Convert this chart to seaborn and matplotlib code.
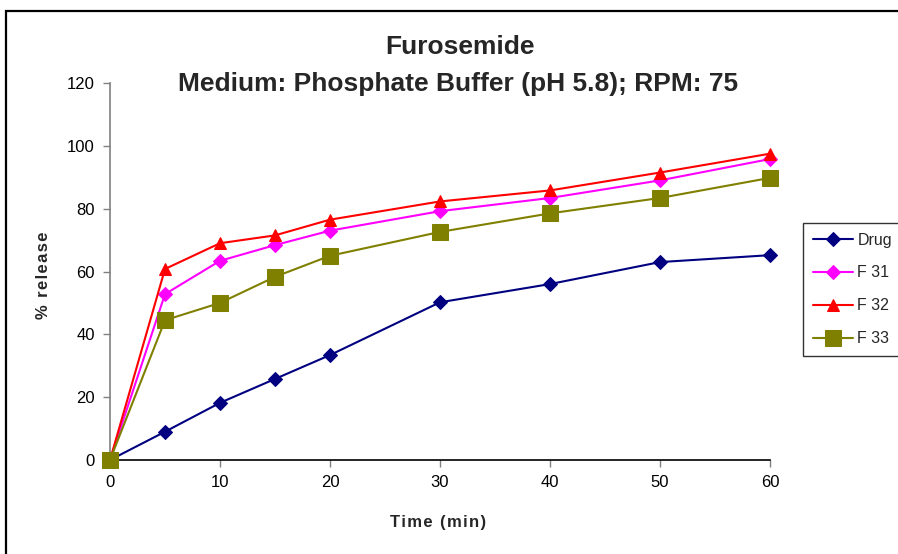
import matplotlib
matplotlib.use("Agg")
import matplotlib.pyplot as plt
from matplotlib.patches import Rectangle
import pandas as pd
import seaborn as sns

sns.set_theme(style="white")
plt.rcParams["font.family"] = ["Liberation Sans", "DejaVu Sans"]

# Dissolution time points (min) and cumulative % release per formulation
time_min = [0, 5, 10, 15, 20, 30, 40, 50, 60]
drug = [0, 9.0, 18.2, 25.8, 33.4, 50.2, 56.0, 63.0, 65.2]
f31 = [0, 52.8, 63.4, 68.4, 73.0, 79.2, 83.4, 89.0, 95.8]
f32 = [0, 60.8, 69.0, 71.5, 76.5, 82.3, 85.8, 91.5, 97.5]
f33 = [0, 44.5, 50.0, 58.3, 65.0, 72.6, 78.5, 83.4, 89.8]

series_names = ["Drug", "F 31", "F 32", "F 33"]
series_values = [drug, f31, f32, f33]
colors = ["#000080", "#FF00FF", "#FF0000", "#808000"]
markers = ["D", "D", "^", "s"]
marker_sizes = [7, 7, 8, 11]

x_ticks = [0, 10, 20, 30, 40, 50, 60]
y_ticks = [0, 20, 40, 60, 80, 100, 120]

df = pd.concat(
    [pd.DataFrame({"Time": time_min, "Release": vals, "Series": name})
     for name, vals in zip(series_names, series_values)],
    ignore_index=True,
)


def spaced(text):
    """Open up letter spacing with hair spaces between characters."""
    return "\u200a".join(text)


W, H = 898, 554
fig = plt.figure(figsize=(W / 100, H / 100), dpi=100)
ax = fig.add_axes([110 / W, 1 - 460 / H, (770 - 110) / W, (460 - 83) / H])

for name, col, mk, ms in zip(series_names, colors, markers, marker_sizes):
    sub = df[df["Series"] == name]
    sns.lineplot(data=sub, x="Time", y="Release", ax=ax, color=col,
                 marker=mk, markersize=ms, markeredgecolor=col,
                 markerfacecolor=col, linewidth=1.5, label=name,
                 legend=False, clip_on=False, zorder=3)

ax.set_xlim(0, 60)
ax.set_ylim(0, 120)
ax.set_xticks(x_ticks)
ax.set_yticks(y_ticks)
ax.tick_params(axis="both", labelsize=12, colors="#808080",
               labelcolor="black", length=5, width=1, direction="out",
               left=True, bottom=True)
ax.tick_params(axis="x", pad=6)
ax.tick_params(axis="y", pad=6)

for side in ("top", "right"):
    ax.spines[side].set_visible(False)
ax.spines["left"].set_color("#808080")
ax.spines["left"].set_linewidth(1.2)
ax.spines["bottom"].set_color("black")
ax.spines["bottom"].set_linewidth(1.2)

ax.set_xlabel(spaced("Time (min)"), fontsize=12, fontweight="bold")
ax.set_ylabel(spaced("% release"), fontsize=12, fontweight="bold")
ax.xaxis.set_label_coords(0.497, -(523 - 460) / 377)
ax.yaxis.set_label_coords((44 - 110) / 660, 0.49)
ax.xaxis.label.set_va("center")
ax.yaxis.label.set_va("center")

fig.text(460 / W, 1 - 47 / H, "Furosemide", ha="center", va="center",
         fontsize=19, fontweight="bold")
fig.text(458 / W, 1 - 84 / H, "Medium: Phosphate Buffer (pH 5.8); RPM: 75",
         ha="center", va="center", fontsize=19, fontweight="bold")

handles, labels = ax.get_legend_handles_labels()
leg = fig.legend(handles, labels, loc="upper left",
                 bbox_to_anchor=(803 / W, 1 - 223 / H),
                 fontsize=11.5, frameon=True, fancybox=False,
                 handlelength=2.5, handletextpad=0.3, labelspacing=1.12,
                 borderpad=0.6, borderaxespad=0)
leg.get_frame().set_edgecolor("black")
leg.get_frame().set_linewidth(1.0)

# Outer chart-area border
fig.patches.append(Rectangle((5.5 / W, -0.05), 1.0, 1 - 11 / H + 0.05,
                             transform=fig.transFigure, fill=False,
                             edgecolor="black", linewidth=1.6))

fig.savefig("out.png", dpi=100)
